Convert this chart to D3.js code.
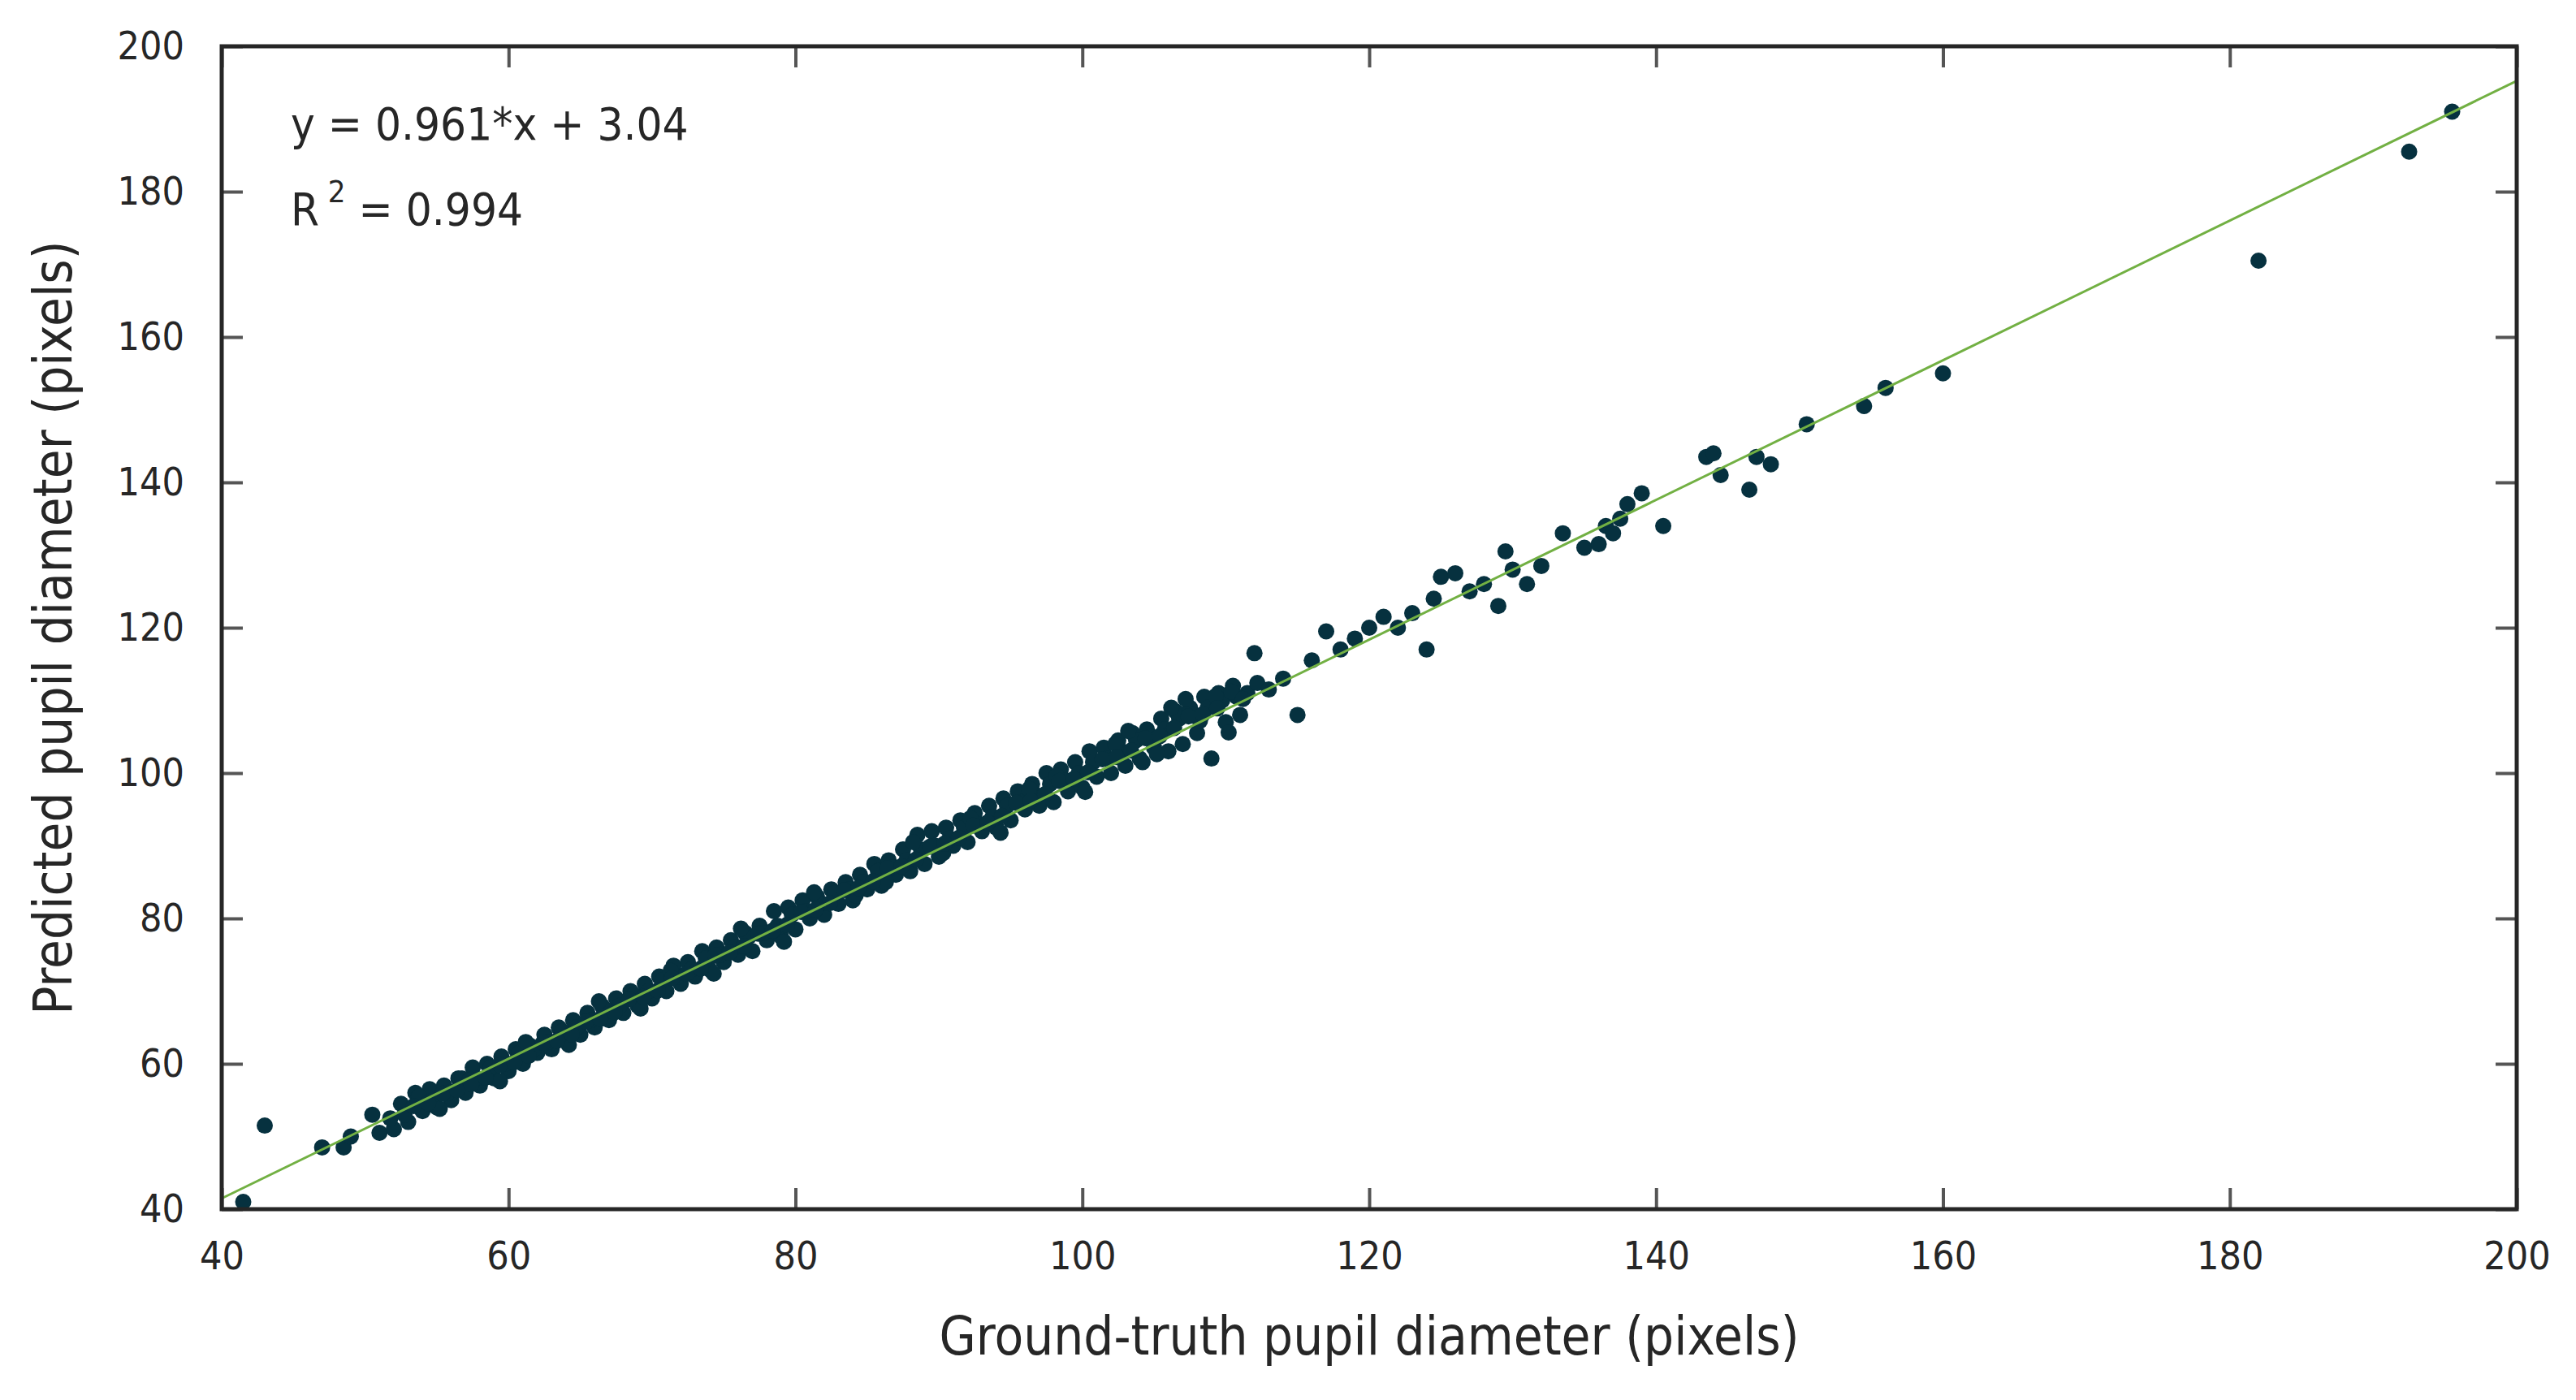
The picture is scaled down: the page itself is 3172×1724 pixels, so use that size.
<!DOCTYPE html>
<html>
<head>
<meta charset="utf-8">
<script src="https://cdn.jsdelivr.net/npm/d3@7"></script>
<style>
body { margin: 0; background: #fff; }
text { font-family: "DejaVu Sans Condensed", "DejaVu Sans", sans-serif; fill: #262626; }
</style>
</head>
<body>
<script>
var w = 3172;
var h = 1724;
var margin = {left: 273, top: 57, right: 73, bottom: 235};

var xTicks = [40, 60, 80, 100, 120, 140, 160, 180, 200];
var yTicks = [40, 60, 80, 100, 120, 140, 160, 180, 200];
var fitSlope = 0.961;
var fitIntercept = 3.04;

// [ground truth, predicted]
var lowOutliers = [
    [41.5,41],[43,51.5],[47,48.5],[48.5,48.5],[49,50],[50.5,53],[51,50.5],[52,51]
];

var mainBand = [
    [52.5,54.5],[53,52],[53.5,56],[54,53.5],[54.5,56.5],[55,54],[55.5,57],[56,55],[56.5,58],[57,56],
    [57.5,59.5],[58,57],[58.5,60],[59,58],[59.5,61],[60,59],[60.5,62],[61,60],[61.5,62.5],[62,61.5],
    [62.5,64],[63,62],[63.5,65],[64,63.5],[64.5,66],[65,64],[65.5,67],[66,65],[66.5,68],[67,66],
    [67.5,69],[68,67],[68.5,70],[69,68],[69.5,71],[70,69],[70.5,72],[71,70],[71.5,73.5],[72,71],
    [72.5,74],[73,72],[73.5,75.5],[74,73],[74.5,76],[75,74],[75.5,77],[76,75],[76.5,78],[77,75.5],
    [77.5,79],[78,77],[78.5,81],[79,77.5],[79.5,81.5],[80,78.5],[80.5,82.5],[81,80],[81.5,83],[82,80.5],
    [82.5,84],[83,82],[83.5,85],[84,82.5],[84.5,86],[85,84],[85.5,87.5],[86,84.5],[86.5,88],[87,86],
    [87.5,89.5],[88,86.5],[88.5,91.5],[89,87.5],[89.5,92],[90,88.5],[90.5,92.5],[91,90],[91.5,93.5],[92,90.5],
    [92.5,94.5],[93,92],[93.5,95.5],[94,92.5],[94.5,96.5],[95,93.5],[95.5,97.5],[96,95],[96.5,98.5],[97,95.5],
    [97.5,100],[98,96],[98.5,100.5],[99,97.5],[99.5,101.5],[100,98],[100.5,103],[101,99.5],[101.5,103.5],[102,100],
    [102.5,104.5],[103,101],[103.5,105.5],[104,102],[104.5,106],[105,103.5],[105.5,107.5],[106,103],[106.5,108.5],[107,104],
    [107.5,109],[108,105.5],[108.5,110.5],[109,102],[109.5,111],[110,107],[110.5,112],[111,108],[111.5,111],
    [51.75,52.5],[52.75,53],[53.75,55.5],[54.75,55],[55.75,56],[56.75,58],[57.75,58],[58.75,59.5],[59.75,60],[60.75,61.5],
    [61.75,62],[62.75,63],[63.75,64.5],[64.75,65],[65.75,66],[66.75,67.5],[67.75,68],[68.75,69.5],[69.75,70],[70.75,71.5],
    [71.75,72],[72.75,73],[73.75,74.5],[74.75,75],[75.75,76],[76.75,77.5],[77.75,78],[78.75,79],[79.75,80.5],[80.75,81],
    [81.75,82],[82.75,83.5],[83.75,84],[84.75,85],[85.75,86.5],[86.75,87],[87.75,88],[88.75,89.5],[89.75,90],[90.75,91],
    [91.75,92.5],[92.75,93],[93.75,94],[94.75,95.5],[95.75,96],[96.75,97],[97.75,98.5],[98.75,99],[99.75,100],[100.75,101.5],
    [101.75,102],[102.75,103],[103.75,104.5],[104.75,105],[105.75,106],[106.75,107.5],[107.75,108],[108.75,109],[109.75,110],[110.75,110.5],
    [55.2,53.8],[57.3,57.8],[59.4,57.6],[61.2,63],[64.2,62.6],[66.3,68.6],[69.2,67.6],[71.3,72.8],[74.3,72.4],[76.2,78.6],
    [79.2,76.8],[81.3,83.6],[84.2,83.2],[86.3,85],[88.2,90.5],[90.3,89],[92.2,93.8],[94.3,91.8],[96.3,97.8],[98.2,99.6],
    [100.2,97.4],[102.3,104],[104.2,101.5],[106.2,109],[108.2,107.2],[103.2,105.8],[105.2,102.6],[107.2,110.2],[109.3,110.6],[110.2,105.6],
    [53.4,54.2],[54.4,54.6],[55.4,55.9],[56.4,56.4],[57.4,57.2],[58.4,58.1],[59.4,59.8],[60.4,60.2],[61.4,61.1],[62.4,62.9],
    [63.4,63.2],[64.4,64.1],[65.4,65.8],[66.4,66.2],[67.4,67.1],[68.4,68.9],[69.4,69.2],[70.4,70.1],[71.4,71.8],[72.4,72.4],
    [73.4,73.1],[74.4,74.9],[75.4,75.3],[76.4,76.2],[77.4,77.9],[78.4,78.3],[79.4,79.1],[80.4,80.9],[81.4,81.2],[82.4,82.1],
    [83.4,83.9],[84.4,84.2],[85.4,85.1],[86.4,86.9],[87.4,87.2],[88.4,88.1],[89.4,89.9],[90.4,90.3],[91.4,91.1],[92.4,92.8],
    [93.4,93.2],[94.4,94.1],[95.4,95.9],[96.4,96.2],[97.4,97.1],[98.4,98.9],[99.4,99.2],[100.4,100.1],[101.4,101.9],[102.4,102.2],
    [103.4,103.1],[104.4,104.8],[105.4,105.1],[106.4,106.2],[107.4,107.8],[108.4,108.1],[109.4,108.9],[110.4,111.2],[111.2,110.2],[112.2,112.4]
];

var highTail = [
    [112,116.5],[115,108],[113,111.5],[114,113],[116,115.5],[117,119.5],[118,117],[119,118.5],[120,120],[121,121.5],
    [122,120],[123,122],[124,117],[124.5,124],[125,127],[126,127.5],[127,125],[128,126],[129,123],[129.5,130.5],
    [130,128],[131,126],[132,128.5],[133.5,133],[135,131],[136,131.5],[136.5,134],[137,133],[137.5,135],[138,137],
    [139,138.5],[140.5,134],[143.5,143.5],[144,144],[144.5,141],[146.5,139],[147,143.5],[148,142.5],[150.5,148],
    [154.5,150.5],[156,153],[160,155],[182,170.5],[192.5,185.5],[195.5,191]
];

var x = d3.scaleLinear().domain([40, 200]).range([margin.left, w - margin.right]);
var y = d3.scaleLinear().domain([40, 200]).range([h - margin.bottom, margin.top]);

var svg = d3.select("body").append("svg")
    .attr("width", w)
    .attr("height", h);

var points = lowOutliers.concat(mainBand, highTail);
svg.selectAll("circle")
    .data(points)
    .enter()
    .append("circle")
    .attr("cx", function(d){ return x(d[0]); })
    .attr("cy", function(d){ return y(d[1]); })
    .attr("r", 10)
    .attr("fill", "#06313f");

// regression line on top
svg.append("line")
    .attr("x1", x(40)).attr("y1", y(fitSlope * 40 + fitIntercept))
    .attr("x2", x(200)).attr("y2", y(fitSlope * 200 + fitIntercept))
    .attr("stroke", "#72b043")
    .attr("stroke-width", 3);

// axes with inward ticks
var tickLen = 26;
svg.append("g").attr("transform", "translate(0," + y(40) + ")")
    .call(d3.axisBottom(x).tickValues(xTicks).tickSizeInner(-tickLen).tickSizeOuter(0).tickPadding(40))
    .call(function(g){ g.select(".domain").remove(); });
svg.append("g").attr("transform", "translate(0," + y(200) + ")")
    .call(d3.axisTop(x).tickValues(xTicks).tickSizeInner(-tickLen).tickSizeOuter(0).tickFormat(""))
    .call(function(g){ g.select(".domain").remove(); });
svg.append("g").attr("transform", "translate(" + x(40) + ",0)")
    .call(d3.axisLeft(y).tickValues(yTicks).tickSizeInner(-tickLen).tickSizeOuter(0).tickPadding(46))
    .call(function(g){ g.select(".domain").remove(); });
svg.append("g").attr("transform", "translate(" + x(200) + ",0)")
    .call(d3.axisRight(y).tickValues(yTicks).tickSizeInner(-tickLen).tickSizeOuter(0).tickFormat(""))
    .call(function(g){ g.select(".domain").remove(); });

svg.selectAll(".tick line").attr("stroke", "#555").attr("stroke-width", 4);
svg.selectAll(".tick text").style("font-size", "48px").attr("fill", "#262626");

svg.append("rect")
    .attr("x", x(40)).attr("y", y(200))
    .attr("width", x(200) - x(40)).attr("height", y(40) - y(200))
    .attr("fill", "none").attr("stroke", "#262626").attr("stroke-width", 5);

// annotation
svg.append("text").attr("x", 358).attr("y", 172)
    .style("font-size", "56px").text("y = 0.961*x + 3.04");
var r2 = svg.append("text").attr("x", 358).attr("y", 277).style("font-size", "56px");
r2.append("tspan").text("R");
r2.append("tspan").attr("dy", -28).style("font-size", "38px").text(" 2");
r2.append("tspan").attr("dy", 28).text(" = 0.994");

// axis titles
svg.append("text")
    .attr("x", (x(40) + x(200)) / 2).attr("y", 1668)
    .attr("text-anchor", "middle").style("font-size", "65px")
    .attr("fill", "#444")
    .text("Ground-truth pupil diameter (pixels)");
svg.append("text")
    .attr("transform", "translate(88," + (y(40) + y(200)) / 2 + ") rotate(-90)")
    .attr("text-anchor", "middle").style("font-size", "65px")
    .attr("fill", "#444")
    .text("Predicted pupil diameter (pixels)");
</script>
</body>
</html>
